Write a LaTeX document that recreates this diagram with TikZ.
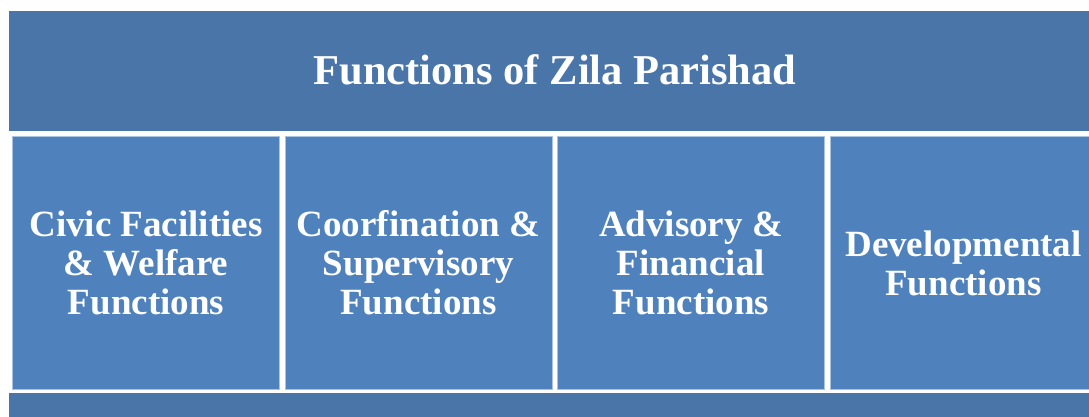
\documentclass[tikz,border=0pt]{standalone}
\usepackage{fontspec}
\setmainfont{Liberation Serif}
\definecolor{topblue}{RGB}{74,117,169}
\definecolor{boxblue}{RGB}{79,129,189}
\definecolor{edgeblue}{RGB}{170,195,228}
\begin{document}
\begin{tikzpicture}[x=1pt,y=1pt,
  band/.style={fill=topblue,draw=none},
  fbox/.style={fill=boxblue,draw=edgeblue,line width=1pt},
  ftext/.style={text=white,font=\bfseries\fontsize{37}{39}\selectfont,align=center}]
\useasboundingbox (0,0) rectangle (1089,416);
\begin{scope}
\clip (0,0) rectangle (1089,416);
\fill[band] (9,285) rectangle (1101,405);
\node[text=white,font=\bfseries\fontsize{42.5}{48}\selectfont] (title) at (555,346) {Functions of Zila Parishad};
\draw[fbox] (12.5,26.5) rectangle (279,280);
\draw[fbox] (285,26.5) rectangle (552,280);
\draw[fbox] (557.5,26.5) rectangle (824.5,280);
\draw[fbox] (830.5,26.5) rectangle (1097,280);
\node[ftext] (b1) at (146,153) {Civic Facilities\\\& Welfare\\Functions};
\node[ftext] (b2) at (418.5,153) {Coorfination \&\\Supervisory\\Functions};
\node[ftext] (b3) at (691,153) {Advisory \&\\Financial\\Functions};
\node[ftext] (b4) at (963.5,153) {Developmental\\Functions};
\fill[band] (9,-10) rectangle (1101,23);
\end{scope}
\end{tikzpicture}
\end{document}
